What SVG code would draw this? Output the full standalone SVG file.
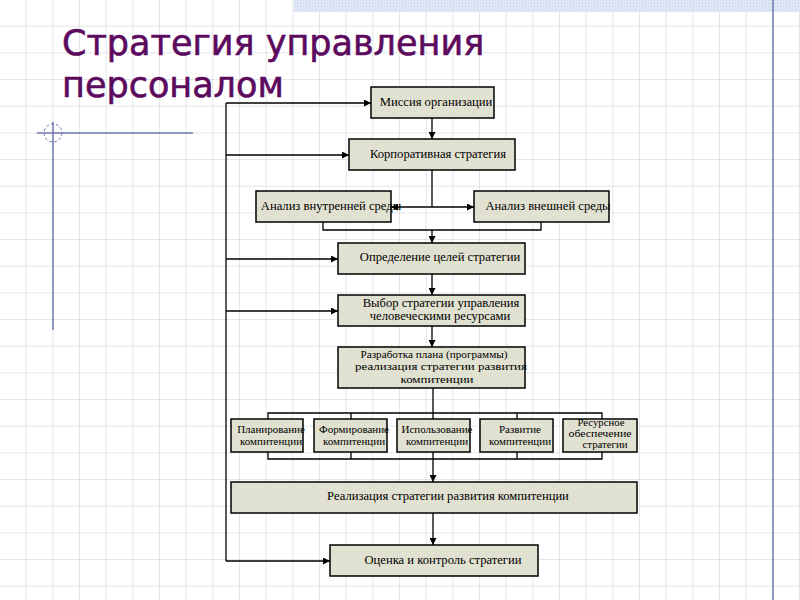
<svg xmlns="http://www.w3.org/2000/svg" width="800" height="600" viewBox="0 0 800 600">
<style>
.box{fill:#e0e1d0;stroke:#000;stroke-width:1.5}
.t{font-family:"Liberation Serif",serif;font-size:12.6px;fill:#000;text-anchor:middle;dominant-baseline:middle}
.p{font-family:"Liberation Serif",serif;font-size:11px;fill:#000;text-anchor:middle;dominant-baseline:middle}
.s{font-family:"Liberation Serif",serif;font-size:11px;fill:#000;text-anchor:middle;dominant-baseline:middle}
.r{font-family:"Liberation Serif",serif;font-size:9.5px;fill:#000;text-anchor:middle;dominant-baseline:middle}
.c{fill:none;stroke:#000;stroke-width:1.3}
.title{font-family:"DejaVu Sans",sans-serif;font-size:35px;fill:#5c0a5e;stroke:#5c0a5e;stroke-width:0.6}
</style>
<defs>
<pattern id="grid" patternUnits="userSpaceOnUse" width="26.667" height="26.667">
<path d="M26.667 0V26.667M0 26.667H26.667" fill="none" stroke="#c9cdd6" stroke-width="1"/>
</pattern>
<pattern id="dots" patternUnits="userSpaceOnUse" width="3" height="3">
<rect width="3" height="3" fill="#e4ebf7"/>
<rect width="1" height="1" fill="#b9c8e6"/>
<rect x="1.5" y="1.5" width="1" height="1" fill="#c9d5ee"/>
</pattern>
<marker id="ar" markerUnits="userSpaceOnUse" markerWidth="7" markerHeight="7" refX="7" refY="3.5" orient="auto">
<path d="M0,0L7,3.5L0,7z" fill="#000"/>
</marker>
</defs>
<g id="background">
<rect width="800" height="600" fill="#fff"/>
<rect width="800" height="600" fill="url(#grid)"/>
<rect x="294" y="0" width="506" height="12" fill="url(#dots)"/>
<line x1="37" y1="133" x2="193" y2="133" stroke="#6c78b2" stroke-width="1.5"/>
<line x1="53" y1="122" x2="53" y2="330" stroke="#6c78b2" stroke-width="1.5"/>
<circle cx="53" cy="133" r="9" fill="none" stroke="#6c78b2" stroke-width="1" stroke-dasharray="3,2"/>
<line x1="773" y1="0" x2="773" y2="600" stroke="#6c78b2" stroke-width="1.5"/>
</g>
<g id="title">
<text class="title" x="62" y="55">Стратегия управления</text>
<text class="title" x="62" y="97">персоналом</text>
</g>
<g id="connectors">
<path class="c" d="M226,103V561"/>
<path class="c" d="M226,103H371" marker-end="url(#ar)"/>
<path class="c" d="M226,155H349" marker-end="url(#ar)"/>
<path class="c" d="M226,259H338" marker-end="url(#ar)"/>
<path class="c" d="M226,311H338" marker-end="url(#ar)"/>
<path class="c" d="M226,561H330" marker-end="url(#ar)"/>
<path class="c" d="M432,118V139" marker-end="url(#ar)"/>
<path class="c" d="M432,170V207"/>
<path class="c" d="M432,207H391" marker-end="url(#ar)"/>
<path class="c" d="M432,207H474" marker-end="url(#ar)"/>
<path class="c" d="M323,222V230H541V222"/>
<path class="c" d="M432,230V243" marker-end="url(#ar)"/>
<path class="c" d="M432,274V295" marker-end="url(#ar)"/>
<path class="c" d="M432,326V347" marker-end="url(#ar)"/>
<path class="c" d="M433,388V413"/>
<path class="c" d="M268,419V413H602V419M351,413V419M433,413V419M517,413V419"/>
<path class="c" d="M268,452V459H602V452M351,452V459M433,452V459M517,452V459"/>
<path class="c" d="M433,459V482" marker-end="url(#ar)"/>
<path class="c" d="M433,513V545" marker-end="url(#ar)"/>
</g>
<g id="mission"><rect class="box" x="371" y="87" width="123" height="31"/><text class="t" x="436" y="103">Миссия организации</text></g>
<g id="corporate"><rect class="box" x="349" y="139" width="166" height="31"/><text class="t" x="438" y="155">Корпоративная стратегия</text></g>
<g id="internal"><rect class="box" x="256" y="191" width="135" height="31"/><text class="t" x="331" y="207">Анализ внутренней среды</text></g>
<g id="external"><rect class="box" x="474" y="191" width="135" height="31"/><text class="t" x="548" y="207">Анализ внешней среды</text></g>
<g id="goals"><rect class="box" x="338" y="243" width="187" height="31"/><text class="t" x="440" y="258">Определение целей стратегии</text></g>
<g id="choice"><rect class="box" x="338" y="295" width="187" height="31"/><text class="t" x="441" y="304">Выбор стратегии управления</text><text class="t" x="440" y="317">человеческими ресурсами</text></g>
<g id="plan"><rect class="box" x="338" y="347" width="187" height="41"/><text class="p" x="434" y="355" textLength="147" lengthAdjust="spacingAndGlyphs">Разработка плана (программы)</text><text class="p" x="441" y="367.5" textLength="172" lengthAdjust="spacingAndGlyphs">реализация стратегии развития</text><text class="p" x="437" y="380" textLength="73" lengthAdjust="spacingAndGlyphs">компитенции</text></g>
<g id="planning"><rect class="box" x="231" y="419" width="72" height="33"/><text class="s" x="271" y="430">Планирование</text><text class="s" x="271" y="442">компитенции</text></g>
<g id="forming"><rect class="box" x="314" y="419" width="73" height="33"/><text class="s" x="354" y="430">Формирование</text><text class="s" x="354" y="442">компитенции</text></g>
<g id="using"><rect class="box" x="397" y="419" width="73" height="33"/><text class="s" x="437" y="430">Использование</text><text class="s" x="437" y="442">компитенции</text></g>
<g id="developing"><rect class="box" x="480" y="419" width="73" height="33"/><text class="s" x="520" y="430">Развитие</text><text class="s" x="520" y="442">компитенции</text></g>
<g id="resources"><rect class="box" x="563" y="419" width="74" height="33"/><text class="r" x="601" y="424" textLength="47" lengthAdjust="spacingAndGlyphs">Ресурсное</text><text class="r" x="600" y="435" textLength="63" lengthAdjust="spacingAndGlyphs">обеспечение</text><text class="r" x="605" y="446" textLength="45" lengthAdjust="spacingAndGlyphs">стратегии</text></g>
<g id="realization"><rect class="box" x="231" y="482" width="406" height="31"/><text class="t" x="448" y="497">Реализация стратегии развития компитенции</text></g>
<g id="evaluation"><rect class="box" x="330" y="545" width="208" height="31"/><text class="t" x="443" y="561">Оценка и контроль стратегии</text></g>
</svg>
